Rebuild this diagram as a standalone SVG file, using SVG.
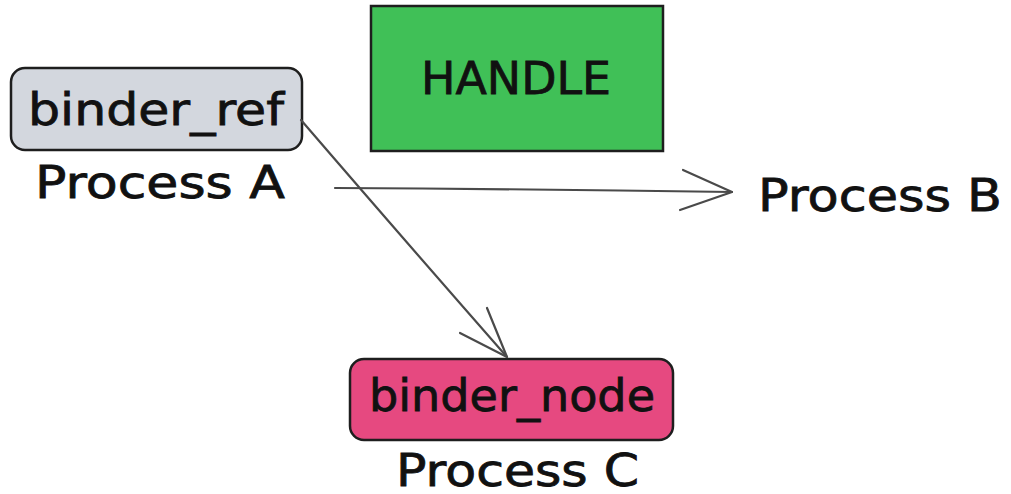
<svg xmlns="http://www.w3.org/2000/svg" width="1011" height="494" viewBox="0 0 1011 494">
<style>
.box{stroke:#1e1e1e;stroke-width:2.5}
.t{font-family:"DejaVu Sans","Liberation Sans",sans-serif;fill:#111;stroke:#111;stroke-width:0.8}
.lbl{font-size:44px}
.cap{font-size:44px}
.con{fill:none;stroke:#4a4a4a;stroke-width:2.2;stroke-linecap:round;stroke-linejoin:round}
</style>
<rect width="1011" height="494" fill="#ffffff"/>
<g id="handle">
<rect class="box" x="371" y="6" width="292" height="145" fill="#40c057"/>
<text class="t" x="516" y="94" font-size="45" text-anchor="middle" textLength="190" lengthAdjust="spacingAndGlyphs">HANDLE</text>
</g>
<g id="binder_ref">
<rect class="box" x="11" y="68" width="291" height="82" rx="14" fill="#d3d7de"/>
<text class="t lbl" x="28" y="125" textLength="256" lengthAdjust="spacingAndGlyphs">binder_ref</text>
</g>
<g id="processA">
<text class="t cap" x="35" y="198" textLength="250" lengthAdjust="spacingAndGlyphs">Process A</text>
</g>
<g id="processB">
<text class="t cap" x="758" y="211" textLength="244" lengthAdjust="spacingAndGlyphs">Process B</text>
</g>
<g id="binder_node">
<rect class="box" x="350" y="359" width="323" height="81" rx="14" fill="#e64980"/>
<text class="t lbl" x="369" y="411" textLength="286" lengthAdjust="spacingAndGlyphs">binder_node</text>
</g>
<g id="processC">
<text class="t cap" x="396" y="486" textLength="243" lengthAdjust="spacingAndGlyphs">Process C</text>
</g>
<g id="connectors">
<path class="con" d="M335 188 Q530 189 732 192"/>
<path class="con" d="M683 170 L732 192 L680 210"/>
<path class="con" d="M301 120 Q400 235 507 357"/>
<path class="con" d="M460 333 L507 357 L487 308"/>
</g>
</svg>
